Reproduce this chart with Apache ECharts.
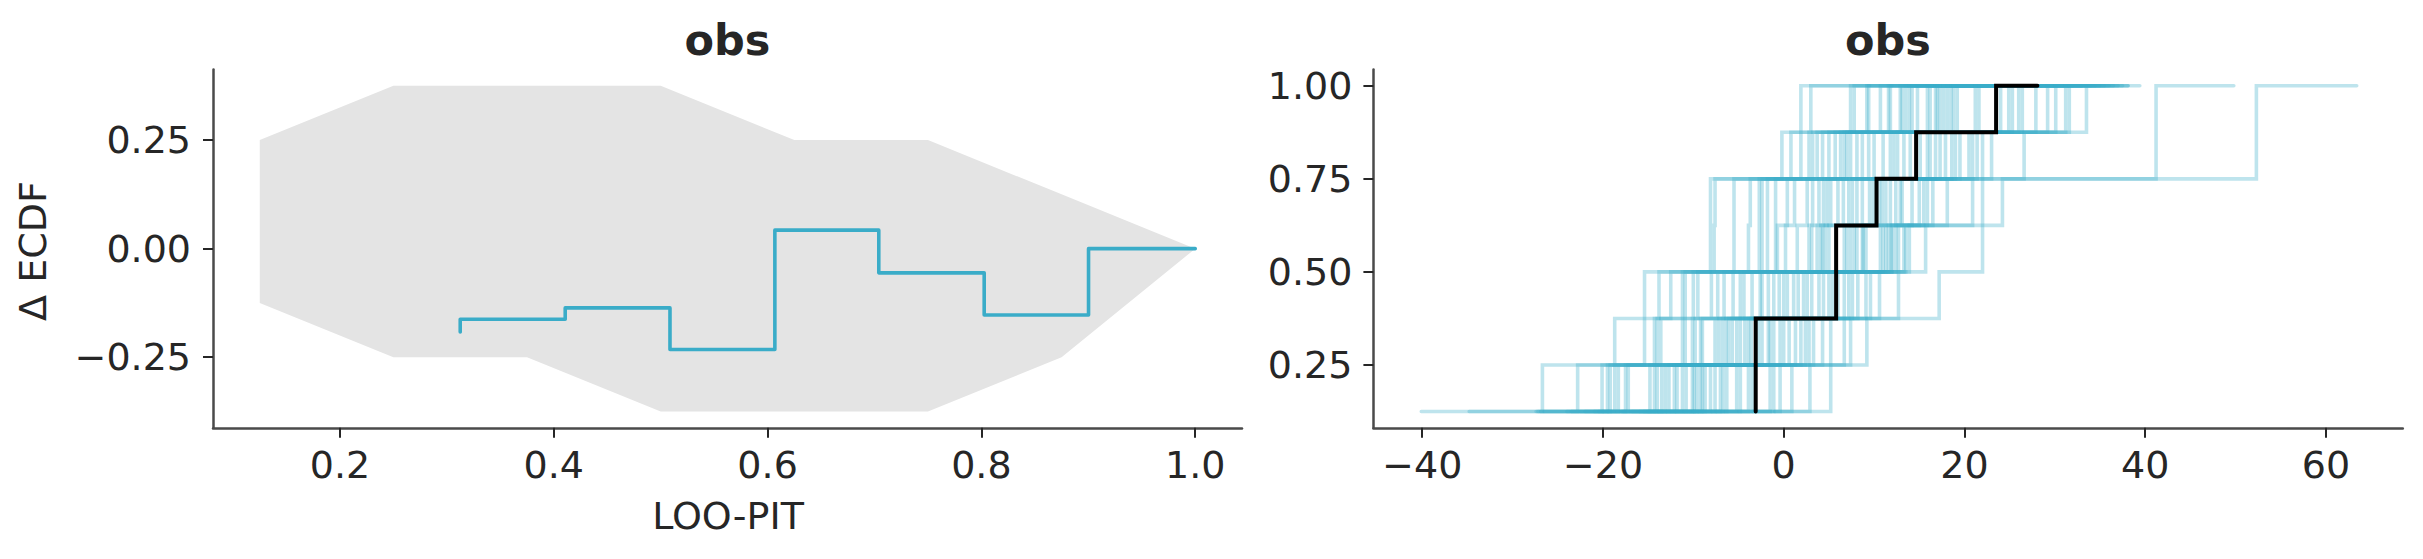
<!DOCTYPE html>
<html><head><meta charset="utf-8">
<script src="https://cdn.jsdelivr.net/npm/echarts@6/dist/echarts.min.js"></script>
<style>html,body{margin:0;padding:0;background:#fff}#c{width:2423px;height:559px}</style>
</head><body><div id="c"></div>
<script>
// ---------- Left panel: LOO-PIT delta ECDF ----------
const bandX     = [0.125, 0.25, 0.375, 0.5, 0.625, 0.75, 0.875, 1.0];
const bandUpper = [0.25, 0.375, 0.375, 0.375, 0.25, 0.25, 0.125, 0.0];
const bandLower = [-0.125, -0.25, -0.25, -0.375, -0.375, -0.375, -0.25, 0.0];
const pitX      = [0.3125, 0.4107, 0.5087, 0.6068, 0.7040, 0.8026, 0.9002, 1.0];
const pitDelta  = [-0.1917, -0.1624, -0.1364, -0.2323, 0.0426, -0.0557, -0.1528, 0.0];

// ---------- Right panel: cumulative PPC ----------
const ecdfLevels = [0.125, 0.25, 0.375, 0.5, 0.625, 0.75, 0.875, 1.0, 1.0];
const obsSteps = [-3.1, -3.1, -3.1, 5.8, 5.8, 10.27, 14.65, 23.5, 28.07];
const ppStart = [-40.1,-34.8,-27.4,-26.9,-27.2,-22.5,-24.0,-21.0,-26.5,-20.5,-17.0,-22.0,-18.5,-16.0,-19.5,-15.5,-23.5,-14.0,-17.8,-12.5,-16.8,-13.0,-20.0,-11.5,-15.0,-12.0,-10.5,-14.5,-9.5,-18.0,-8.0,-11.0,-13.8,-6.5,-9.0,-5.0,-7.5,-3.5,-10.0,-1.0];
const ppJump1 = [-26.7,-22.8,-20.1,-19.5,-19.2,-18.7,-18.3,-17.5,-17.2,-14.8,-14.3,-14.0,-13.5,-13.1,-12.7,-12.1,-11.8,-11.2,-10.8,-10.1,-9.9,-9.6,-9.2,-9.0,-8.7,-8.1,-7.6,-7.0,-6.7,-6.3,-5.2,-4.8,-3.9,-3.5,-1.5,-1.1,-0.4,0.9,2.9,5.2];
const ppJump2 = [-18.7,-15.4,-14.3,-14.0,-13.6,-11.2,-10.9,-10.1,-9.8,-9.2,-9.0,-7.6,-7.2,-6.8,-6.4,-6.1,-5.7,-5.2,-4.8,-4.3,-3.9,-3.6,-2.8,-2.4,-1.7,-1.5,-1.1,-0.4,0.0,0.6,1.3,1.9,2.4,2.8,3.3,4.3,5.2,6.7,7.4,9.2];
const ppJump3 = [-15.4,-13.8,-12.5,-11.2,-10.9,-10.0,-9.5,-8.0,-7.3,-6.6,-5.6,-4.8,-4.4,-3.5,-2.6,-2.4,-1.7,-1.1,-0.5,0.0,0.4,1.1,1.6,2.2,2.6,3.1,3.9,4.4,5.0,5.4,6.0,6.7,7.2,7.6,8.2,9.1,9.6,10.6,12.7,17.2];
const ppJump4 = [-8.1,-7.7,-5.5,-3.9,-2.7,-2.4,-1.8,-0.9,-0.7,0.2,1.5,2.8,3.1,3.7,4.1,4.3,4.6,5.0,5.8,6.7,7.0,7.4,7.8,8.1,8.7,8.8,9.1,10.7,11.0,11.3,11.6,11.9,12.0,12.4,12.7,13.3,13.5,13.9,15.7,22.0];
const ppJump5 = [-8.1,-7.6,-5.5,-3.7,-2.7,-2.4,-1.8,-0.9,0.4,1.2,2.6,3.2,3.9,4.4,4.8,5.2,6.0,6.6,7.2,7.6,8.1,8.7,9.5,9.9,10.6,10.9,11.3,11.8,12.4,12.9,13.1,14.2,15.0,15.5,15.9,16.5,18.1,20.9,22.0,24.2];
const ppJump6 = [-0.2,0.8,1.9,2.8,3.2,3.7,4.3,5.0,5.7,6.3,6.7,7.0,7.4,8.1,8.7,9.4,10.0,11.0,11.8,12.2,12.6,13.3,14.0,15.1,15.9,16.2,16.8,17.3,17.9,18.6,19.0,19.5,20.5,20.9,21.4,22.0,23.0,26.6,41.2,52.3];
const ppJump7 = [1.9,3.0,7.4,7.8,9.2,9.4,10.7,11.6,11.8,12.9,13.1,13.5,13.9,14.2,14.8,15.9,16.2,16.8,17.0,17.3,17.7,18.1,18.5,18.8,19.2,21.2,21.6,24.0,24.9,25.3,26.0,26.4,27.9,29.2,30.1,31.2,31.6,33.5,41.2,52.3];
const ppEnd   = [12.0,9.5,18.0,22.0,15.0,25.0,16.5,20.0,28.0,19.0,30.0,17.5,24.0,33.0,21.0,26.5,35.0,23.0,29.0,31.0,27.0,36.5,22.5,32.0,26.0,34.0,28.5,37.0,30.5,35.5,33.0,38.1,31.5,36.0,34.5,37.5,38.1,39.4,49.8,63.4];

// ---------- Ticks ----------
const leftXTicks  = [0.2, 0.4, 0.6, 0.8, 1.0];
const leftYTicks  = [-0.25, 0, 0.25];
const rightXTicks = [-40, -20, 0, 20, 40, 60];
const rightYTicks = [0.25, 0.5, 0.75, 1.0];

const FONT = '"DejaVu Sans", "Liberation Sans", sans-serif';
const TXT = '#262626';
const BLUE = '#3aacc8';
const minus = s => s.replace('-', '\u2212');

function axisCommon(ticks, fmt, margin) {
  return {
    type: 'value',
    splitLine: { show: false },
    axisLine: { show: true, onZero: false, lineStyle: { color: '#4a4a4a', width: 2.5 } },
    axisTick: { show: true, length: 10, customValues: ticks, lineStyle: { color: '#262626', width: 2 } },
    axisLabel: { customValues: ticks, formatter: v => minus(fmt(v)), fontSize: 38, color: TXT, fontFamily: FONT, margin: margin }
  };
}

const grids = [
  { left: 213, top: 69.5, width: 1029, height: 358.3 },
  { left: 1373.4, top: 69.5, width: 1029.4, height: 358.3 }
];

const xAxes = [
  Object.assign(axisCommon(leftXTicks, v => v.toFixed(1), 18), { gridIndex: 0, min: 0.08125, max: 1.04375 }),
  Object.assign(axisCommon(rightXTicks, v => String(Math.round(v)), 18), { gridIndex: 1, min: -45.4, max: 68.5 })
];
const yAxes = [
  Object.assign(axisCommon(leftYTicks, v => v.toFixed(2), 22), { gridIndex: 0, min: -0.4125, max: 0.4125 }),
  Object.assign(axisCommon(rightYTicks, v => v.toFixed(2), 21), { gridIndex: 1, min: 0.08125, max: 1.04375 })
];

const series = [];
series.push({
  type: 'custom', xAxisIndex: 0, yAxisIndex: 0, silent: true, z: 1, clip: false,
  data: [[0.5, 0]],
  renderItem: function (params, api) {
    const pts = [];
    for (let i = 0; i < bandX.length; i++) pts.push(api.coord([bandX[i], bandUpper[i]]));
    for (let i = bandX.length - 1; i >= 0; i--) pts.push(api.coord([bandX[i], bandLower[i]]));
    return { type: 'polygon', shape: { points: pts }, style: { fill: '#e4e4e4', stroke: null } };
  }
});
series.push({
  type: 'line', xAxisIndex: 0, yAxisIndex: 0, step: 'start', silent: true, z: 3,
  symbol: 'none', data: pitX.map((x, i) => [x, pitDelta[i]]),
  lineStyle: { color: BLUE, width: 3.6, cap: 'round', join: 'round' }
});

const jumps = [ppJump1, ppJump2, ppJump3, ppJump4, ppJump5, ppJump6, ppJump7];
for (let i = 0; i < ppStart.length; i++) {
  const xs = [ppStart[i]].concat(jumps.map(a => a[i])).concat([ppEnd[i]]);
  series.push({
    type: 'line', xAxisIndex: 1, yAxisIndex: 1, step: 'end', silent: true, z: 2,
    symbol: 'none', data: xs.map((x, k) => [x, ecdfLevels[k]]),
    lineStyle: { color: BLUE, width: 3.6, opacity: 0.33, cap: 'round', join: 'miter' }
  });
}
series.push({
  type: 'line', xAxisIndex: 1, yAxisIndex: 1, step: 'end', silent: true, z: 4,
  symbol: 'none', data: obsSteps.map((x, k) => [x, ecdfLevels[k]]),
  lineStyle: { color: '#000000', width: 4, cap: 'round', join: 'miter' }
});

const chart = echarts.init(document.getElementById('c'), null, { renderer: 'svg' });
chart.setOption({
  animation: false,
  backgroundColor: '#ffffff',
  grid: grids,
  xAxis: xAxes,
  yAxis: yAxes,
  series: series,
  graphic: [
    { type: 'text', x: 727.5, y: 40, z: 10, style: { text: 'obs', fontSize: 43, fontWeight: 'bold', fontFamily: FONT, fill: TXT, align: 'center', verticalAlign: 'middle' } },
    { type: 'text', x: 1888, y: 40, z: 10, style: { text: 'obs', fontSize: 43, fontWeight: 'bold', fontFamily: FONT, fill: TXT, align: 'center', verticalAlign: 'middle' } },
    { type: 'text', x: 728, y: 516, z: 10, style: { text: 'LOO-PIT', fontSize: 38, fontFamily: FONT, fill: TXT, align: 'center', verticalAlign: 'middle' } },
    { type: 'text', x: 33, y: 251, rotation: Math.PI / 2, z: 10, style: { text: 'Δ ECDF', fontSize: 38, fontFamily: FONT, fill: TXT, align: 'center', verticalAlign: 'middle' } }
  ]
});
</script></body></html>
